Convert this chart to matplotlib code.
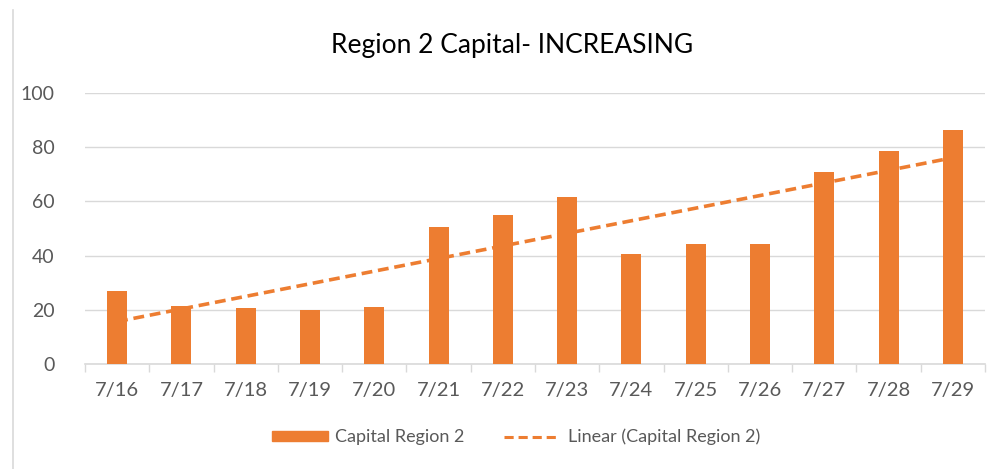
import matplotlib
matplotlib.use("Agg")
import matplotlib.pyplot as plt
import numpy as np
from matplotlib.lines import Line2D

categories = ["7/16", "7/17", "7/18", "7/19", "7/20", "7/21", "7/22",
              "7/23", "7/24", "7/25", "7/26", "7/27", "7/28", "7/29"]
values = [27, 21.3, 20.7, 20.1, 21.2, 50.6, 54.8,
          61.6, 40.6, 44.3, 44.3, 70.9, 78.5, 86.5]
yticks = [0, 20, 40, 60, 80, 100]
title = "Region 2 Capital- INCREASING"
series_name = "Capital Region 2"
trend_name = "Linear (Capital Region 2)"

plt.rcParams['font.family'] = ['Lato', 'DejaVu Sans']
orange = "#ED7D31"
grey_text = "#595959"
grid_col = "#D9D9D9"

fig = plt.figure(figsize=(9.94, 4.69), dpi=100)
ax = fig.add_axes([85/994, 1-364/469, 900/994, (364-93)/469])

x = np.arange(len(categories))
ax.bar(x, values, width=0.31, color=orange, label=series_name, zorder=3)

coef = np.polyfit(x, values, 1)
trend = np.polyval(coef, x)
ax.plot(x, trend, linestyle=(0, (3, 1.6)), color=orange, linewidth=2.6,
        label=trend_name, zorder=4)

ax.set_xlim(-0.5, len(categories) - 0.5)
ax.set_ylim(0, 100)
ax.set_yticks(yticks)
ax.set_yticklabels([str(v) for v in yticks])
ax.set_xticks(x)
ax.set_xticklabels(categories)
ax.set_xticks(np.arange(-0.5, len(categories), 1.0), minor=True)
ax.tick_params(axis='x', which='major', length=0, pad=13, labelsize=14.5, labelcolor=grey_text)
ax.tick_params(axis='x', which='minor', length=6, width=1, color=grid_col)
ax.tick_params(axis='y', length=0, pad=22, labelsize=14, labelcolor=grey_text)
ax.yaxis.grid(True, color=grid_col, linewidth=1)
ax.set_axisbelow(True)
for s in ['top', 'right', 'left']:
    ax.spines[s].set_visible(False)
ax.spines['bottom'].set_color(grid_col)
ax.spines['bottom'].set_linewidth(1.2)

fig.text(0.515, 1-45/469, title, ha='center', va='center', fontsize=19, color='black')

handles = [plt.Rectangle((0, 0), 1, 1, color=orange),
           Line2D([0], [0], color=orange, linestyle=(0, (3, 1.6)), linewidth=2.2)]
fig.legend(handles, [series_name, trend_name], loc='center', ncol=2,
           bbox_to_anchor=(0.519, 1-437/469), frameon=False, fontsize=13,
           labelcolor=grey_text, handlelength=3.1, handleheight=0.45,
           columnspacing=2.2, handletextpad=0.4)

fig.add_artist(Line2D([13/994, 13/994], [0, 1-10/469], transform=fig.transFigure,
                      color="#D9D9D9", linewidth=1.2))

fig.savefig("out.png", dpi=100)
